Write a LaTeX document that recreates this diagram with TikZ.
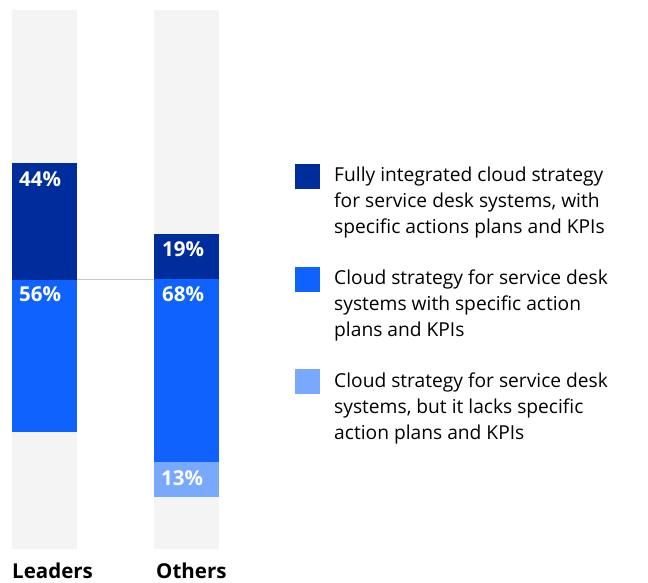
\documentclass[tikz,border=0pt]{standalone}
\usepackage{fontspec}
\setmainfont{Open Sans}
\definecolor{dkblue}{HTML}{002D9C}
\definecolor{mdblue}{HTML}{0F62FE}
\definecolor{ltblue}{HTML}{78A9FF}
\definecolor{bggray}{HTML}{F4F4F4}
\definecolor{lngray}{HTML}{C6C6C6}
\newcommand{\legtext}[1]{\parbox[t]{310pt}{\raggedright\fontsize{19.2}{26}\selectfont #1}}
\begin{document}
\begin{tikzpicture}[x=1pt,y=-1pt,
  pct/.style={anchor=base west,inner sep=0pt,text=white,font=\fontsize{20.5}{20.5}\selectfont\bfseries},
  cat/.style={anchor=base west,inner sep=0pt,text=black,font=\fontsize{20.5}{20.5}\selectfont\bfseries},
  leg/.style={anchor=base west,inner sep=0pt,text=black},
  sw/.style={minimum size=25pt,inner sep=0pt,anchor=north west}]
\useasboundingbox (0,0) rectangle (648,582);
% backgrounds
\fill[bggray] (12,10) rectangle (77,549);
\fill[bggray] (154,10) rectangle (219,549);
% Leaders
\fill[dkblue] (12,163) rectangle (77,280);
\fill[mdblue] (12,280) rectangle (77,432);
% Others
\fill[dkblue] (154,234) rectangle (219,279);
\fill[mdblue] (154,279) rectangle (219,462);
\fill[ltblue] (154,462) rectangle (219,497);
% connector line
\coordinate (la) at (77,279.5);
\coordinate (lb) at (154,279.5);
\draw[lngray,line width=1pt] (la) -- (lb);
% labels
\node[pct] (p44) at (19,186) {44\%};
\node[pct] (p56) at (19,301) {56\%};
\node[pct] (p19) at (162,256) {19\%};
\node[pct] (p68) at (162,301) {68\%};
\node[pct] (p13) at (161,485) {13\%};
\node[cat] (cl) at (12,578) {Leaders};
\node[cat] (co) at (156,578) {Others};
% legend
\node[sw,fill=dkblue] (s1) at (295,164) {};
\node[sw,fill=mdblue] (s2) at (295,267) {};
\node[sw,fill=ltblue] (s3) at (295,369) {};
\node[leg] (t1) at (334,181) {\legtext{Fully integrated cloud strategy\\for service desk systems, with\\specific actions plans and KPIs}};
\node[leg] (t2) at (334,284) {\legtext{Cloud strategy for service desk\\systems with specific action\\plans and KPIs}};
\node[leg] (t3) at (334,387) {\legtext{Cloud strategy for service desk\\systems, but it lacks specific\\action plans and KPIs}};
\end{tikzpicture}
\end{document}
